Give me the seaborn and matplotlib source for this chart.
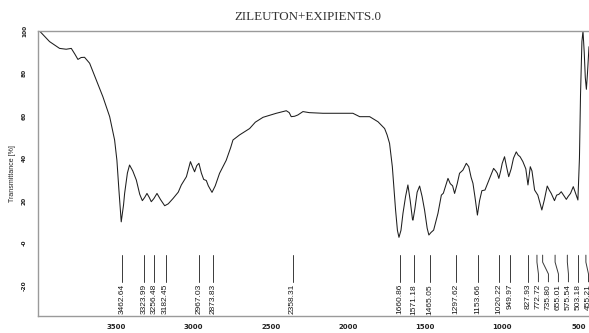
import matplotlib
matplotlib.use("Agg")
import matplotlib.pyplot as plt
import seaborn as sns
import pandas as pd

# FTIR spectrum: wavenumber (cm-1) and transmittance (%)
wavenumber = [
    4000, 3935, 3870, 3827, 3794, 3770, 3751, 3730, 3708, 3675, 3632, 3589,
    3545, 3513, 3498, 3485, 3470, 3455, 3448, 3430, 3416, 3395, 3372, 3350,
    3333, 3318, 3303, 3288, 3275, 3258, 3238, 3215, 3188, 3165, 3134, 3100,
    3080, 3047, 3021, 3008, 2994, 2980, 2966, 2950, 2935, 2918, 2905, 2881,
    2860, 2832, 2789, 2760, 2745, 2702, 2637, 2600, 2550, 2464, 2399, 2380,
    2367, 2345, 2324, 2291, 2250, 2161, 1967, 1923, 1858, 1804, 1761, 1745,
    1729, 1711, 1700, 1690, 1678, 1668, 1655, 1642, 1625, 1610, 1595, 1580,
    1577, 1565, 1550, 1534, 1518, 1502, 1485, 1474, 1460, 1443, 1415, 1393,
    1380, 1365, 1350, 1335, 1320, 1307, 1290, 1275, 1253, 1231, 1215, 1200,
    1188, 1175, 1159, 1145, 1130, 1110, 1080, 1054, 1040, 1030, 1020, 1008,
    998, 983, 970, 956, 940, 925, 907, 895, 882, 864, 845, 831,
    816, 805, 788, 767, 750, 741, 725, 706, 693, 680, 659, 645,
    630, 615, 600, 582, 570, 555, 537, 522, 507, 497, 490, 481,
    474, 466, 459, 452, 445, 435,
]
transmittance = [
    100, 95, 91.8, 91.4, 91.8, 89, 86.6, 87.5, 87.6, 84.8, 76.9, 69,
    59.6, 48.6, 39, 25, 10, 18, 23.4, 33, 36.8, 34, 29.7, 23,
    20, 21.5, 23.4, 21.5, 19.5, 21, 23.4, 20.5, 17.6, 18.5, 21, 24,
    27.4, 31.3, 38.4, 36, 33.6, 36.5, 37.6, 33, 30, 29.5, 27, 23.9,
    27, 32.9, 39, 45, 48.6, 51, 54, 57, 59.3, 61.2, 62.4, 61.5,
    59.6, 59.8, 60.4, 62, 61.5, 61.2, 61.2, 59.6, 59.6, 57.2, 54, 51,
    47, 36, 25, 15.6, 6, 2.7, 6, 14, 22, 27.4, 20, 11,
    10.8, 16, 24, 26.9, 22, 15.6, 7, 3.8, 5, 6.1, 14, 22.6,
    23.5, 27, 30.5, 28, 27, 23.4, 28, 32.9, 34.4, 37.6, 36, 31,
    28.2, 21.8, 13.2, 20, 24.7, 25, 30.5, 35.2, 34, 32.9, 30.5, 34,
    37.6, 40.7, 36, 31.3, 35, 40, 43, 41.5, 40.7, 38.4, 35, 27.4,
    36, 34, 25, 22.6, 18, 15.6, 20.3, 26.9, 25, 23.4, 20, 22.6,
    23, 24.2, 22.6, 20.6, 22, 23.4, 26.6, 23.4, 20.3, 40, 70, 95,
    100, 90, 78, 72.5, 80, 92.6,
]

# Picked band positions (cm-1)
peaks = [3462.64, 3323.99, 3256.48, 3182.45, 2967.03, 2873.83, 2358.31,
         1660.86, 1571.18, 1465.05, 1297.62, 1153.66, 1020.22, 949.97,
         827.93, 772.72, 735.80, 655.01, 575.54, 503.18, 455.21]

title = "ZILEUTON+EXIPIENTS.0"
x_ticks = [3500, 3000, 2500, 2000, 1500, 1000, 500]
y_ticks = [100, 80, 60, 40, 20, 0, -20]
y_tick_labels = ["100", "80", "60", "40", "20", "-0", "-20"]

df = pd.DataFrame({"wavenumber": wavenumber, "transmittance": transmittance})

sns.set_theme(style="white")
plt.rcParams["font.family"] = ["Liberation Sans", "DejaVu Sans"]

W, H = 589, 333
fig = plt.figure(figsize=(W / 100, H / 100), dpi=100)
ax = fig.add_axes([38 / W, (H - 316) / H, (W - 38) / W, 285 / H])

sns.lineplot(data=df, x="wavenumber", y="transmittance", ax=ax,
             color="#1e1e1e", linewidth=0.75, sort=False, estimator=None)

ax.set_xlim(4010, 435)
ax.set_ylim(-34.4, 100)

# axis frame: left, bottom and top lines in grey
for side in ["left", "bottom", "top"]:
    ax.spines[side].set_color("#9a9a9a")
    ax.spines[side].set_linewidth(1.0)
ax.spines["right"].set_visible(False)

ax.set_xticks(x_ticks)
ax.set_xticklabels([str(t) for t in x_ticks], fontsize=5,
                   fontweight="bold", family="DejaVu Sans", color="#222222")
ax.set_yticks(y_ticks)
ax.set_yticklabels(y_tick_labels, fontsize=4.2, fontweight="bold",
                   rotation=90, va="center", family="DejaVu Sans",
                   color="#222222")
ax.tick_params(axis="both", direction="out", length=3, width=0.8,
               color="#9a9a9a", pad=2)
ax.tick_params(axis="y", pad=5)
ax.tick_params(axis="x", pad=3)
ax.set_xlabel("")
ax.set_ylabel("Transmittance [%]", fontsize=5, color="#222222", labelpad=4)

# band labels: spread labels so neighbours keep a minimum gap
px_per_unit = (579 - 116.7) / 3000.0
gap = 10 / px_per_unit
label_x = []
for p in peaks:
    if label_x and label_x[-1] - p < gap:
        label_x.append(label_x[-1] - gap)
    else:
        label_x.append(p)

y_top, y_bend1, y_bend2, y_end, y_text = -5.7, -9.0, -14.6, -18.3, -19.3
for p, lx in zip(peaks, label_x):
    ax.plot([p, p, lx, lx], [y_top, y_bend1, y_bend2, y_end],
            color="#3a3a3a", linewidth=0.7, clip_on=True)
    ax.text(lx, y_text, f"{p:.2f}", rotation=90, ha="center", va="top",
            fontsize=6, color="#1a1a1a", clip_on=True)

fig.text(308 / W, 1 - 17.5 / H, title, ha="center", va="center",
         fontsize=9.4, family="Liberation Serif", color="#333333")

fig.savefig("out.png", dpi=100)
